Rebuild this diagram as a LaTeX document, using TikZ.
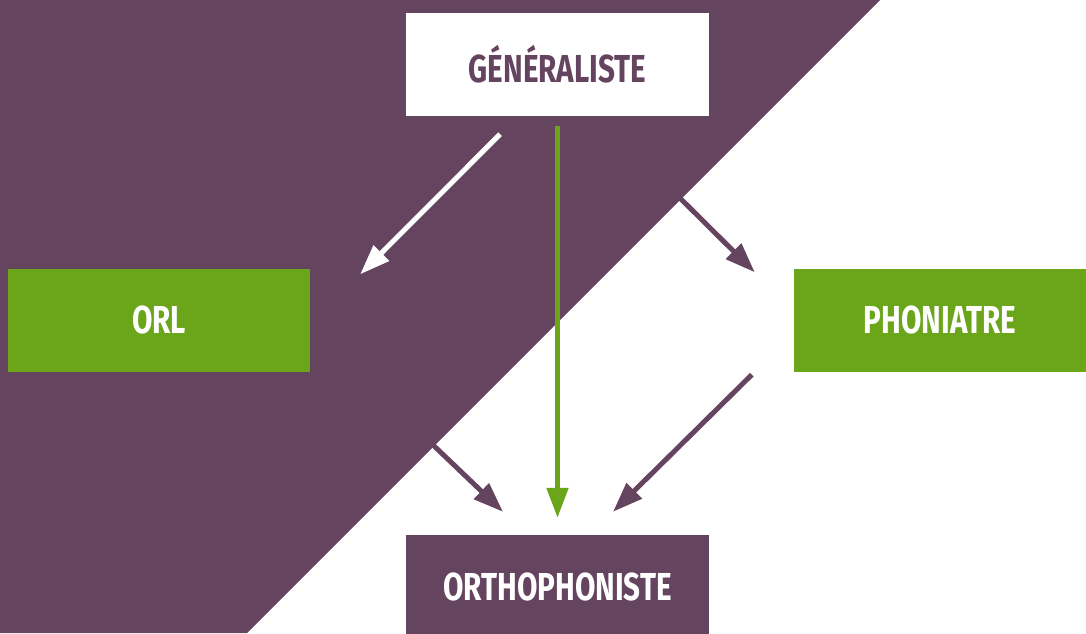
\documentclass[tikz,border=0pt]{standalone}
\usepackage{fontspec}
\setmainfont[FakeStretch=0.76]{Fira Sans}
\usetikzlibrary{arrows.meta,positioning}
\definecolor{prune}{HTML}{65445F}
\definecolor{vert}{HTML}{6AA51A}

\begin{document}
\begin{tikzpicture}[x=1pt,y=-1pt,
  boite/.style={minimum width=303pt,minimum height=103pt,inner sep=0pt,
    font=\fontsize{39}{42}\selectfont\bfseries},
  fleche/.style={line width=5pt,-{Triangle[length=30pt,width=21pt]}}]
  \useasboundingbox (0,0) rectangle (1086,633);
  \fill[white] (0,0) rectangle (1086,633);
  \fill[prune] (0,0) -- (880,0) -- (247,633) -- (0,633) -- cycle;
  \node[boite,fill=white,text=prune] (gen) at (557.5,64.5) {GÉNÉRALISTE};
  \node[boite,fill=vert,text=white,minimum width=302pt] (orl) at (159,320) {ORL};
  \node[boite,fill=vert,text=white,minimum width=292pt] (phon) at (940,320) {PHONIATRE};
  \node[boite,fill=prune,text=white,minimum height=104pt] (ortho) at (557.5,587) {ORTHOPHONISTE};
  % fleches
  \draw[fleche,white] ([xshift=-57.5pt,yshift=-18pt]gen.south) -- ([xshift=50pt,yshift=-6pt]orl.north east);
  \draw[fleche,vert] ([yshift=-10pt]gen.south) -- ([yshift=17pt]ortho.north);
  \draw[fleche,prune] ([xshift=107.5pt,yshift=-67pt]gen.south) -- ([xshift=-39pt,yshift=-4pt]phon.north west);
  \draw[fleche,prune] ([xshift=110pt,yshift=-61pt]orl.south east) -- ([xshift=-54.5pt,yshift=23pt]ortho.north);
  \draw[fleche,prune] ([xshift=-42pt,yshift=-3pt]phon.south west) -- ([xshift=55.5pt,yshift=23pt]ortho.north);
\end{tikzpicture}
\end{document}
